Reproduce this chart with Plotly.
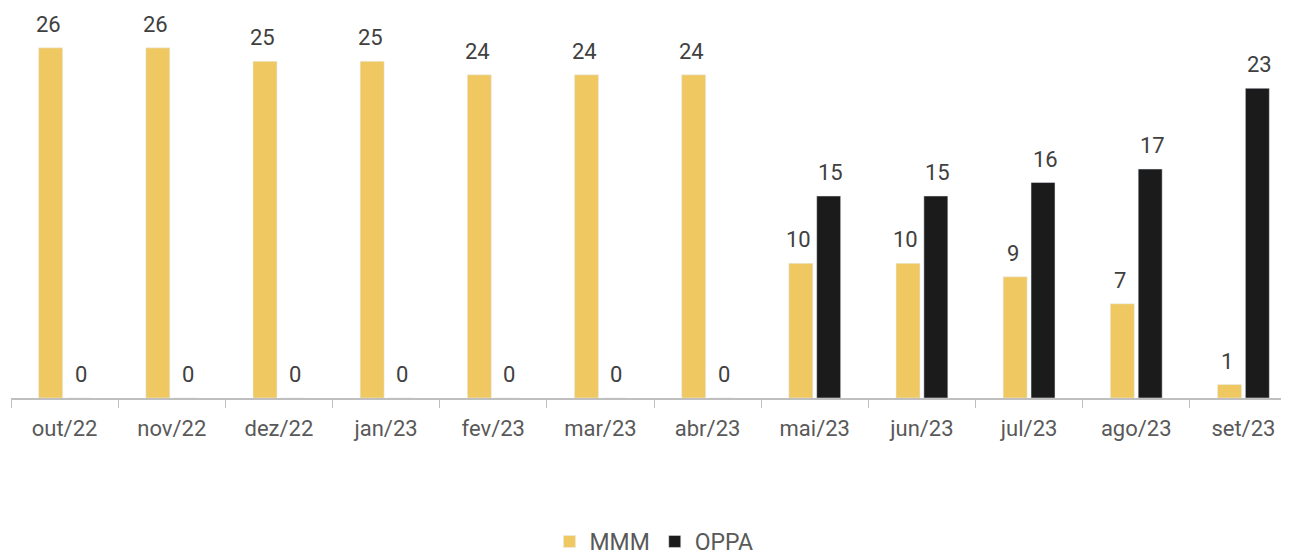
import plotly.graph_objects as go

# monthly counts
months = ["out/22", "nov/22", "dez/22", "jan/23", "fev/23", "mar/23",
          "abr/23", "mai/23", "jun/23", "jul/23", "ago/23", "set/23"]
mmm = [26, 26, 25, 25, 24, 24, 24, 10, 10, 9, 7, 1]
oppa = [0, 0, 0, 0, 0, 0, 0, 15, 15, 16, 17, 23]

fig = go.Figure()
fig.add_trace(go.Bar(x=months, y=mmm, name="MMM", marker_color="#EFC862"))
fig.add_trace(go.Bar(x=months, y=oppa, name="OPPA", marker_color="#1B1B1B"))

# value labels, a bit further above the bars than plotly's own outside text
for vals, shift in [(mmm, -16), (oppa, 16)]:
    for m, v in zip(months, vals):
        fig.add_annotation(x=m, y=v, text=str(v), showarrow=False,
                           yanchor="bottom", xshift=shift, yshift=9,
                           font=dict(size=22, color="#404040"))

fig.update_layout(
    width=1289, height=555,
    barmode="group", bargap=0.48, bargroupgap=0.14,
    plot_bgcolor="white", paper_bgcolor="white",
    font=dict(family="Roboto", size=22, color="#595959"),
    margin=dict(l=3, r=0, t=0, b=164),
    showlegend=True,
    legend=dict(orientation="h", x=0.5, xanchor="center", y=-0.368, yanchor="middle",
                font=dict(size=23, color="#595959"), itemwidth=30),
)
fig.update_xaxes(
    showline=True, linecolor="#BFBFBF", linewidth=1.5, automargin=False,
    ticks="outside", tickson="boundaries", ticklen=8, tickcolor="#BFBFBF",
    ticklabelstandoff=10,
    tickfont=dict(size=22, color="#595959"), showgrid=False,
)
fig.update_yaxes(range=[0, 28.96], visible=False, showgrid=False, automargin=False)

fig.write_html("out.html")
